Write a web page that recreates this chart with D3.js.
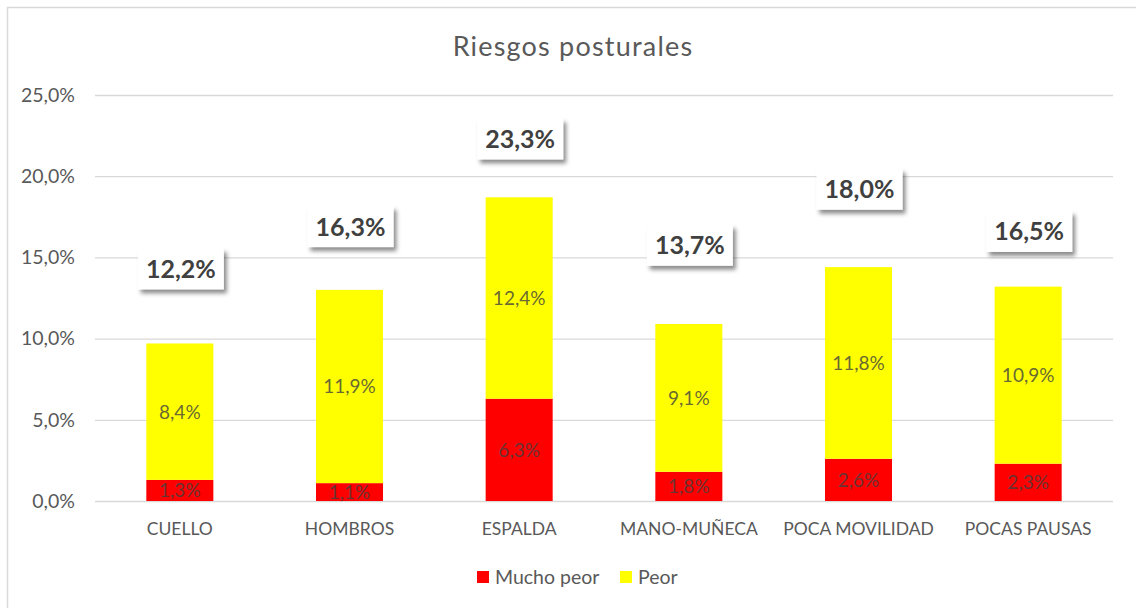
<!DOCTYPE html>
<html>
<head>
<meta charset="utf-8">
<script src="https://cdn.jsdelivr.net/npm/d3@7/dist/d3.min.js"></script>
<style>
  html, body { margin: 0; padding: 0; background: #fff; }
  svg { display: block; font-family: Lato, "Open Sans", sans-serif; }
</style>
</head>
<body>
<svg id="chart" width="1136" height="608"></svg>
<script>
// Categories and series
const categories = ["CUELLO", "HOMBROS", "ESPALDA", "MANO-MUÑECA", "POCA MOVILIDAD", "POCAS PAUSAS"];
const muchoPeor = [1.3, 1.1, 6.3, 1.8, 2.6, 2.3];
const peor = [8.4, 11.9, 12.4, 9.1, 11.8, 10.9];
// Highlighted totals shown in callout boxes, with the height (in %) where each box sits
const totals = [12.2, 16.3, 23.3, 13.7, 18.0, 16.5];
const totalsAt = [14.3, 16.9, 22.3, 15.75, 19.2, 16.6];
const yTicks = [0, 5, 10, 15, 20, 25];
const seriesNames = ["Mucho peor", "Peor"];
const seriesColors = ["#ff0000", "#ffff00"];

const fmt = v => d3.format(".1f")(v).replace(".", ",") + "%";

const svg = d3.select("#chart");
const W = 1136, H = 608;
const plot = { left: 95, right: 1113, top: 95, bottom: 501 };

// Chart frame
svg.append("rect")
  .attr("x", 7.5).attr("y", 7.5)
  .attr("width", W + 10).attr("height", H + 10)
  .attr("fill", "#fff").attr("stroke", "#d9d9d9").attr("stroke-width", 1.5);

const defs = svg.append("defs");
const shadow = defs.append("filter").attr("id", "boxShadow")
  .attr("x", "-20%").attr("y", "-20%").attr("width", "150%").attr("height", "160%");
shadow.append("feDropShadow")
  .attr("dx", 3).attr("dy", 4).attr("stdDeviation", 2.2)
  .attr("flood-color", "#000").attr("flood-opacity", 0.45);

const x = d3.scaleBand().domain(categories).range([plot.left, plot.right]).padding(0);
const y = d3.scaleLinear().domain([0, 25]).range([plot.bottom, plot.top]);
const barW = x.bandwidth() * 0.395;

// Title
svg.append("text")
  .attr("x", 573).attr("y", 56)
  .attr("text-anchor", "middle")
  .attr("font-size", 27).attr("letter-spacing", 1.2).attr("fill", "#595959")
  .text("Riesgos posturales");

// Gridlines and y-axis labels
const yAxis = d3.axisLeft(y).tickValues(yTicks)
  .tickSize(-(plot.right - plot.left)).tickPadding(20)
  .tickFormat(fmt);
const gy = svg.append("g").attr("transform", `translate(${plot.left},0)`).call(yAxis);
gy.select(".domain").remove();
gy.selectAll(".tick line").attr("stroke", "#d9d9d9").attr("stroke-width", 1.3);
gy.selectAll(".tick text").attr("fill", "#595959").attr("font-size", 19.5)
  .attr("font-family", "Lato, sans-serif");

// Stacked bars
const stackData = categories.map((c, i) => ({ cat: c, m: muchoPeor[i], p: peor[i] }));
const stacked = d3.stack().keys(["m", "p"])(stackData);

const layers = svg.append("g").selectAll("g").data(stacked).join("g")
  .attr("fill", (d, i) => seriesColors[i]);
layers.selectAll("rect").data(d => d).join("rect")
  .attr("x", d => x(d.data.cat) + x.bandwidth() / 2 - barW / 2)
  .attr("y", d => y(d[1]))
  .attr("width", barW)
  .attr("height", d => y(d[0]) - y(d[1]));

// Segment value labels
layers.selectAll("text").data(d => d.map(s => ({ s, key: d.key }))).join("text")
  .attr("x", d => x(d.s.data.cat) + x.bandwidth() / 2)
  .attr("y", d => (y(d.s[0]) + y(d.s[1])) / 2)
  .attr("dy", "0.36em")
  .attr("text-anchor", "middle")
  .attr("font-size", 19)
  .attr("fill", "#404040").attr("fill-opacity", 0.8)
  .text(d => fmt(d.s.data[d.key]));

// X axis category labels
const xAxis = d3.axisBottom(x).tickSize(0).tickPadding(21.5);
const gx = svg.append("g").attr("transform", `translate(0,${plot.bottom})`).call(xAxis);
gx.select(".domain").remove();
gx.selectAll(".tick text").attr("fill", "#595959").attr("font-size", 17.5)
  .attr("font-family", "Lato, sans-serif");

// Callout boxes with totals
const boxW = 86, boxH = 41;
const callouts = svg.append("g").selectAll("g").data(categories).join("g")
  .attr("transform", (c, i) => `translate(${x(c) + x.bandwidth() / 2 + 1},${y(totalsAt[i])})`);
callouts.append("rect")
  .attr("x", -boxW / 2).attr("y", -boxH / 2)
  .attr("width", boxW).attr("height", boxH)
  .attr("fill", "#fff").attr("filter", "url(#boxShadow)");
callouts.append("text")
  .attr("text-anchor", "middle").attr("dy", "0.36em")
  .attr("font-size", 25).attr("font-weight", "bold").attr("fill", "#404040")
  .text((c, i) => fmt(totals[i]));

// Legend
const legend = svg.append("g").attr("transform", "translate(477,577)");
const legendX = [0, 143];
seriesNames.forEach((name, i) => {
  const g = legend.append("g").attr("transform", `translate(${legendX[i]},0)`);
  g.append("rect").attr("x", 0).attr("y", -6).attr("width", 12).attr("height", 12)
    .attr("fill", seriesColors[i]);
  g.append("text").attr("x", 18).attr("dy", "0.36em")
    .attr("font-size", 19.5).attr("fill", "#595959").text(name);
});
</script>
</body>
</html>
